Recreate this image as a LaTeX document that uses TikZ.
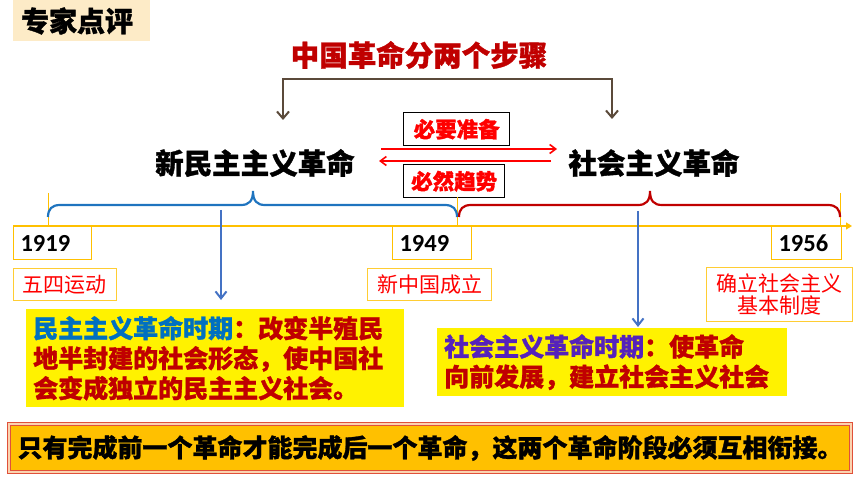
\documentclass[tikz,border=0pt]{standalone}
\usepackage{fontspec}
\setmainfont{Noto Sans CJK SC}
\newfontfamily\cjk{Noto Sans CJK SC}[BoldFeatures={FakeBold=1.2}]
\newfontfamily\numfont{Carlito}
\usetikzlibrary{arrows.meta}
\definecolor{dred}{HTML}{C00000}
\definecolor{bred}{HTML}{FF0000}
\definecolor{ylw}{HTML}{FFC000}
\definecolor{titlebg}{HTML}{FDEBC7}
\definecolor{brwn}{HTML}{5B4A3A}
\definecolor{bblue}{HTML}{4472C4}
\definecolor{brblue}{HTML}{1F74BF}
\definecolor{tblue}{HTML}{0070C0}
\definecolor{purp}{HTML}{5522BB}
\definecolor{bordred}{HTML}{E0503A}
\definecolor{bordgap}{HTML}{FBD3B0}
\tikzset{
  bigtext/.style={font=\cjk\bfseries\fontsize{28.5}{30}\selectfont, inner sep=0pt},
  tagbox/.style={draw=black, line width=1.4pt, fill=white, text=bred, font=\cjk\bfseries\fontsize{21.5}{23}\selectfont, inner sep=0pt, minimum height=33pt},
  yearbox/.style={draw=ylw, line width=1pt, fill=white, font=\numfont\bfseries\fontsize{24.5}{26}\selectfont, inner xsep=7pt, inner ysep=0pt, minimum height=33pt, align=left, anchor=north west},
  labelbox/.style={draw=ylw!80, line width=1pt, fill=white, text=bred, font=\cjk\fontsize{21}{22}\selectfont, inner sep=0pt, align=center, anchor=north west},
  notebox/.style={fill=yellow, font=\cjk\bfseries\fontsize{25}{30}\selectfont, text=dred, inner xsep=7pt, inner ysep=0pt, align=left, anchor=north west},
  brownarrow/.style={draw=brwn, line width=2pt, {Straight Barb[length=7pt,width=12pt]}-{Straight Barb[length=7pt,width=12pt]}},
  redarrow/.style={draw=bred, line width=1.6pt, -{Straight Barb[length=6pt,width=9pt]}},
  bluearrow/.style={draw=bblue, line width=2pt, -{Straight Barb[length=7pt,width=11pt]}},
  tick/.style={draw=ylw, line width=1pt},
}
\begin{document}
\begin{tikzpicture}[x=1pt,y=-1pt]
\useasboundingbox (0,0) rectangle (860,484);
% title
\node[fill=titlebg, minimum width=137pt, minimum height=41pt, anchor=north west, inner sep=0pt] (hdr) at (13,0) {};
\node[bigtext, font=\cjk\bfseries\fontsize{28}{30}\selectfont] (hdrtxt) at (77,21) {专家点评};
% headline
\node[bigtext, text=dred] (main) at (419,55) {中国革命分两个步骤};
\node[bigtext] (nd) at (255,163) {新民主主义革命};
\node[bigtext] (sr) at (654,163) {社会主义革命};
% brown connector
\coordinate (bL) at (283,79);
\coordinate (bR) at (612,79);
\coordinate (ndTop) at (283,120);
\coordinate (srTop) at (612,119);
\draw[brownarrow] (ndTop) -- (bL) -- (bR) -- (srTop);
% tags and red arrows
\node[tagbox, minimum width=106pt, anchor=north west] (prep) at (403,112) {必要准备};
\node[tagbox, minimum width=101pt, anchor=north west] (trend) at (403,164) {必然趋势};
\coordinate (rA) at (381,149);
\coordinate (rB) at (557,149);
\coordinate (lA) at (551,161);
\coordinate (lB) at (379,161);
\draw[redarrow] (rA) -- (rB);
\draw[redarrow] (lA) -- (lB);
% timeline
\coordinate (tS) at (13,226);
\coordinate (tE) at (852,226);
\draw[draw=ylw, line width=1.2pt, -{Triangle[length=6pt,width=7pt]}] (tS) -- (tE);
\coordinate (k1a) at (48,193); \coordinate (k1b) at (48,226);
\coordinate (k2a) at (457,197); \coordinate (k2b) at (457,226);
\coordinate (k3a) at (840,193); \coordinate (k3b) at (840,226);
\draw[tick] (k1a) -- (k1b);
\draw[tick] (k2a) -- (k2b);
\draw[tick] (k3a) -- (k3b);
% braces
\draw[brblue, line width=2.2pt] (48,217) .. controls (48,209) and (52,205) .. (60,205) -- (241,205)
  .. controls (249,205) and (253,201) .. (253,191) .. controls (253,201) and (257,205) .. (265,205)
  -- (445,205) .. controls (453,205) and (457,209) .. (457,217);
\draw[dred, line width=2.2pt] (459,217) .. controls (459,209) and (463,205) .. (471,205) -- (638,205)
  .. controls (646,205) and (650,201) .. (650,191) .. controls (650,201) and (654,205) .. (662,205)
  -- (828,205) .. controls (836,205) and (840,209) .. (840,217);
% years
\node[yearbox, text width=64pt] (y1) at (13,226) {1919};
\node[yearbox, text width=65pt] (y2) at (392,226) {1949};
\node[yearbox, text width=56pt] (y3) at (771,226) {1956};
% labels
\node[labelbox, minimum width=103pt, minimum height=32pt] (l1) at (13,268) {五四运动};
\node[labelbox, minimum width=124pt, minimum height=32pt] (l2) at (367,268) {新中国成立};
\node[labelbox, minimum width=146pt, minimum height=54pt] (l3) at (706,267) {确立社会主义\\基本制度};
% notes
\node[notebox, text width=364pt, minimum height=98pt] (n1) at (26,309)
  {\textcolor{tblue}{民主主义革命时期}：改变半殖民\\地半封建的社会形态，使中国社\\会变成独立的民主主义社会。};
\node[notebox, text width=336pt, minimum height=68pt] (n2) at (437,328)
  {\textcolor{purp}{社会主义革命时期}：使革命\\向前发展，建立社会主义社会};
% blue arrows
\coordinate (a1s) at (221,210); \coordinate (a1e) at (221,300);
\coordinate (a2s) at (638,211); \coordinate (a2e) at (638,327);
\draw[bluearrow] (a1s) -- (a1e);
\draw[bluearrow] (a2s) -- (a2e);
% bottom
\node[draw=bordred, double=bordgap, double distance=1.5pt, line width=0.8pt, fill=ylw,
  minimum width=842pt, minimum height=48pt, inner sep=0pt,
  font=\cjk\bfseries\fontsize{25}{28}\selectfont] (bottom) at (430,448)
  {只有完成前一个革命才能完成后一个革命，这两个革命阶段必须互相衔接。};
\end{tikzpicture}
\end{document}
